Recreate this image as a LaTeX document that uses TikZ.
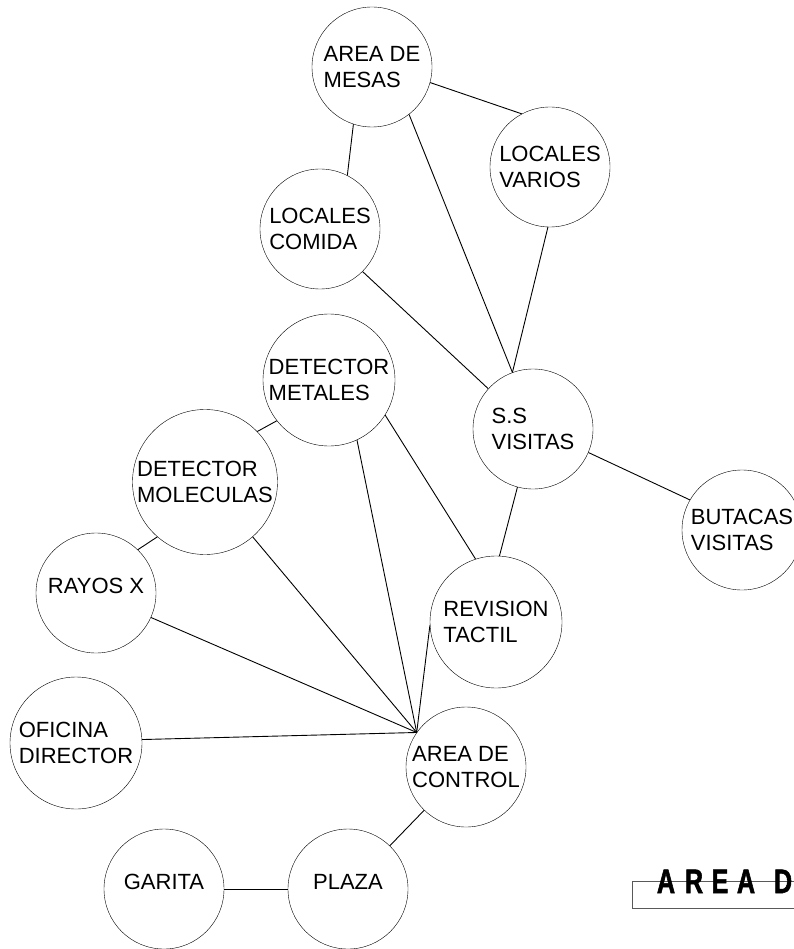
\documentclass[tikz,border=0pt]{standalone}
\usepackage{fontspec}
\setmainfont{Liberation Sans}
\newfontfamily\titlefont{Liberation Sans Bold}[FakeStretch=0.74, FakeBold=1.6]
\usepackage{tikz}
\usetikzlibrary{positioning, calc}

\begin{document}
\begin{tikzpicture}[
  x=1pt, y=-1pt,
  spot/.style={draw, circle, inner sep=0pt, minimum size=120pt, align=left, font=\fontsize{22}{25.5}\selectfont},
  oneline/.style={text depth=14pt},
  link/.style={line width=0.9pt},
  titlechar/.style={anchor=base, inner sep=0pt, font=\titlefont\fontsize{34}{34}\selectfont}
]
  \useasboundingbox (0,0) rectangle (793,949);

  % areas
  \node[spot] (mesas) at (372, 67) {AREA DE\\MESAS};
  \node[spot] (varios) at (550, 167) {LOCALES\\VARIOS};
  \node[spot] (comida) at (320, 229) {LOCALES\\COMIDA};
  \node[spot, minimum size=132pt] (metales) at (329, 380) {DETECTOR\\METALES};
  \node[spot] (ss) at (533, 429) {S.S\\VISITAS};
  \node[spot, minimum size=145pt] (molec) at (205, 482) {DETECTOR\\MOLECULAS};
  \node[spot, oneline] (rayos) at (96, 593) {RAYOS X};
  \node[spot, minimum size=132pt] (revision) at (496, 622) {REVISION\\TACTIL};
  \node[spot] (butacas) at (742, 530) {BUTACAS\\VISITAS};
  \node[spot, minimum size=132pt] (oficina) at (76, 743) {OFICINA\\DIRECTOR};
  \node[spot] (control) at (466, 767) {AREA DE\\CONTROL};
  \node[spot, oneline] (garita) at (164, 889) {GARITA};
  \node[spot, oneline] (plaza) at (348, 889) {PLAZA};

  \coordinate (hub) at (control.145);

  % connections
  \draw[link] (mesas.-15) -- (varios.118);
  \draw[link] (mesas.-108) -- (comida.63);
  \draw[link] (mesas.-52) -- (ss.110);
  \draw[link] (varios.-92) -- (ss.110);
  \draw[link] (comida.-45) -- (ss.138);
  \draw[link] (ss.-23) -- (butacas.150);
  \draw[link] (ss.-105) -- (revision.87);
  \draw[link] (metales.218) -- (molec.44);
  \draw[link] (metales.-32) -- (revision.108);
  \draw[link] (metales.-65) -- (hub);
  \draw[link] (molec.229) -- (rayos.46);
  \draw[link] (molec.-49) -- (hub);
  \draw[link] (rayos.-24) -- (hub);
  \draw[link] (revision.183) -- (hub);
  \draw[link] (oficina.3) -- (hub);
  \draw[link] (plaza) -- (control);
  \draw[link] (garita) -- (plaza);

  % title frame
  \draw[line width=0.9pt, black!65] (800, 881) -- (632, 881) -- (632, 908) -- (800, 908);
  \foreach \ch/\px [count=\i] in {A/666, R/694, E/720, A/746, D/783}
    \node[titlechar] (ttl\i) at (\px, 893) {\ch};
\end{tikzpicture}
\end{document}
